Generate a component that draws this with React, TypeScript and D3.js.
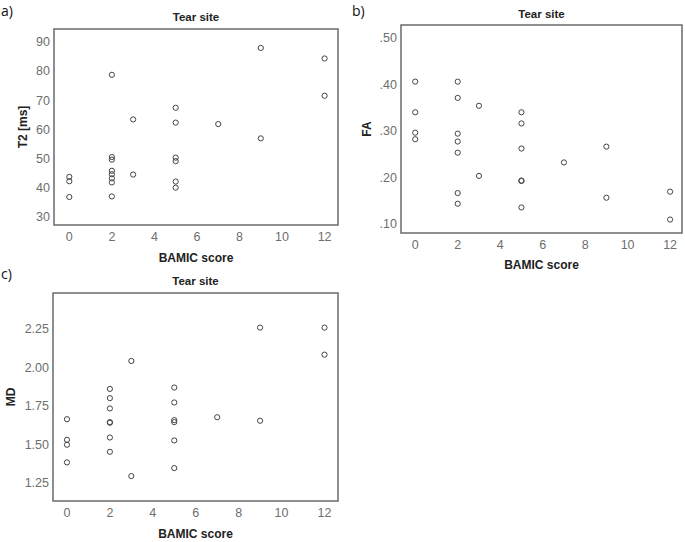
import React from "react";
import * as d3 from "d3";

// ---- data ----
const xTicks = [0, 2, 4, 6, 8, 10, 12];

const t2X = [0, 0, 0, 2, 2, 2, 2, 2, 2, 2, 2, 3, 3, 5, 5, 5, 5, 5, 5, 7, 9, 9, 12, 12];
const t2Y = [43.7, 42.2, 36.8, 78.7, 50.5, 49.6, 45.8, 44.6, 43.2, 41.8, 37.0, 63.4, 44.5, 67.4, 62.3, 50.3, 49.1, 42.1, 40.0, 61.8, 87.9, 56.9, 84.3, 71.5];
const t2Ticks = [30, 40, 50, 60, 70, 80, 90];

const faX = [0, 0, 0, 0, 2, 2, 2, 2, 2, 2, 2, 3, 3, 5, 5, 5, 5, 5, 5, 7, 9, 9, 12, 12];
const faY = [0.406, 0.340, 0.296, 0.282, 0.406, 0.371, 0.294, 0.277, 0.253, 0.166, 0.143, 0.354, 0.203, 0.340, 0.316, 0.262, 0.193, 0.192, 0.135, 0.232, 0.266, 0.156, 0.169, 0.109];
const faTicks = [0.1, 0.2, 0.3, 0.4, 0.5];

const mdX = [0, 0, 0, 0, 2, 2, 2, 2, 2, 2, 2, 3, 3, 5, 5, 5, 5, 5, 5, 7, 9, 9, 12, 12];
const mdY = [1.663, 1.529, 1.497, 1.382, 1.860, 1.800, 1.733, 1.644, 1.640, 1.544, 1.451, 2.042, 1.293, 1.869, 1.772, 1.657, 1.644, 1.525, 1.345, 1.676, 2.259, 1.653, 2.259, 2.083];
const mdTicks = [1.25, 1.5, 1.75, 2.0, 2.25];

const TICK_FONT = "'Liberation Sans', Arial, sans-serif";
const LABEL_FONT = "'Open Sans', 'Noto Sans', sans-serif";

type PanelProps = {
  tag: string;
  tagX: number;
  tagY: number;
  left: number;
  top: number;
  right: number;
  bottom: number;
  xDomain: [number, number];
  yDomain: [number, number];
  xs: number[];
  ys: number[];
  yTicks: number[];
  yFmt: (v: number) => string;
  yLabel: string;
  yLabelX: number;
  titleY: number;
  xTickY: number;
  xLabelY: number;
};

function Panel(p: PanelProps) {
  const x = d3.scaleLinear().domain(p.xDomain).range([p.left, p.right]);
  const y = d3.scaleLinear().domain(p.yDomain).range([p.bottom, p.top]);
  const cx = (p.left + p.right) / 2;
  const cy = (p.top + p.bottom) / 2;
  return (
    <g>
      <text x={p.tagX} y={p.tagY} fontFamily={LABEL_FONT} fontSize={14} fill="#111">
        {p.tag}
      </text>
      <text x={cx} y={p.titleY} textAnchor="middle" fontFamily={TICK_FONT} fontWeight="bold" fontSize={11.5} fill="#222">
        Tear site
      </text>
      <rect
        x={p.left}
        y={p.top}
        width={p.right - p.left}
        height={p.bottom - p.top}
        fill="none"
        stroke="#6a6a6a"
        strokeWidth={1.5}
      />
      {p.yTicks.map((t) => (
        <text
          key={"y" + t}
          x={p.left - 4}
          y={y(t)}
          dy="0.35em"
          textAnchor="end"
          fontFamily={TICK_FONT}
          fontSize={12.5}
          fill="#6e6e6e"
        >
          {p.yFmt(t)}
        </text>
      ))}
      {xTicks.map((t) => (
        <text
          key={"x" + t}
          x={x(t)}
          y={p.xTickY}
          textAnchor="middle"
          fontFamily={TICK_FONT}
          fontSize={12.5}
          fill="#6e6e6e"
        >
          {t}
        </text>
      ))}
      <text x={cx} y={p.xLabelY} textAnchor="middle" fontFamily={TICK_FONT} fontWeight="bold" fontSize={12} fill="#222">
        BAMIC score
      </text>
      <text
        transform={`translate(${p.yLabelX},${cy}) rotate(-90)`}
        textAnchor="middle"
        dy="0.35em"
        fontFamily={TICK_FONT}
        fontWeight="bold"
        fontSize={12}
        fill="#222"
      >
        {p.yLabel}
      </text>
      {p.xs.map((v, i) => (
        <circle key={i} cx={x(v)} cy={y(p.ys[i])} r={2.6} fill="none" stroke="#444" strokeWidth={1} />
      ))}
    </g>
  );
}

export default function App() {
  const fmtFA = (v: number) => d3.format(".2f")(v).replace(/^0/, "");
  const fmtMD = (v: number) => d3.format(".2f")(v);
  const fmtT2 = (v: number) => String(v);
  return (
    <svg width={685} height={542} style={{ display: "block", position: "absolute", left: 0, top: 0 }}>
      <rect width={685} height={542} fill="#fff" />
      <Panel
        tag="a)"
        tagX={1}
        tagY={16}
        left={54}
        top={29}
        right={338}
        bottom={225}
        xDomain={[-0.72, 12.63]}
        yDomain={[27.2, 94.4]}
        xs={t2X}
        ys={t2Y}
        yTicks={t2Ticks}
        yFmt={fmtT2}
        yLabel="T2 [ms]"
        yLabelX={23}
        titleY={21}
        xTickY={241}
        xLabelY={262}
      />
      <Panel
        tag="b)"
        tagX={352}
        tagY={16}
        left={401}
        top={25}
        right={682}
        bottom={233}
        xDomain={[-0.67, 12.56]}
        yDomain={[0.08, 0.528]}
        xs={faX}
        ys={faY}
        yTicks={faTicks}
        yFmt={fmtFA}
        yLabel="FA"
        yLabelX={367}
        titleY={18}
        xTickY={249}
        xLabelY={269}
      />
      <Panel
        tag="c)"
        tagX={1}
        tagY={279}
        left={53}
        top={293}
        right={338}
        bottom={501}
        xDomain={[-0.65, 12.63]}
        yDomain={[1.131, 2.484]}
        xs={mdX}
        ys={mdY}
        yTicks={mdTicks}
        yFmt={fmtMD}
        yLabel="MD"
        yLabelX={11}
        titleY={285}
        xTickY={517}
        xLabelY={538}
      />
    </svg>
  );
}
